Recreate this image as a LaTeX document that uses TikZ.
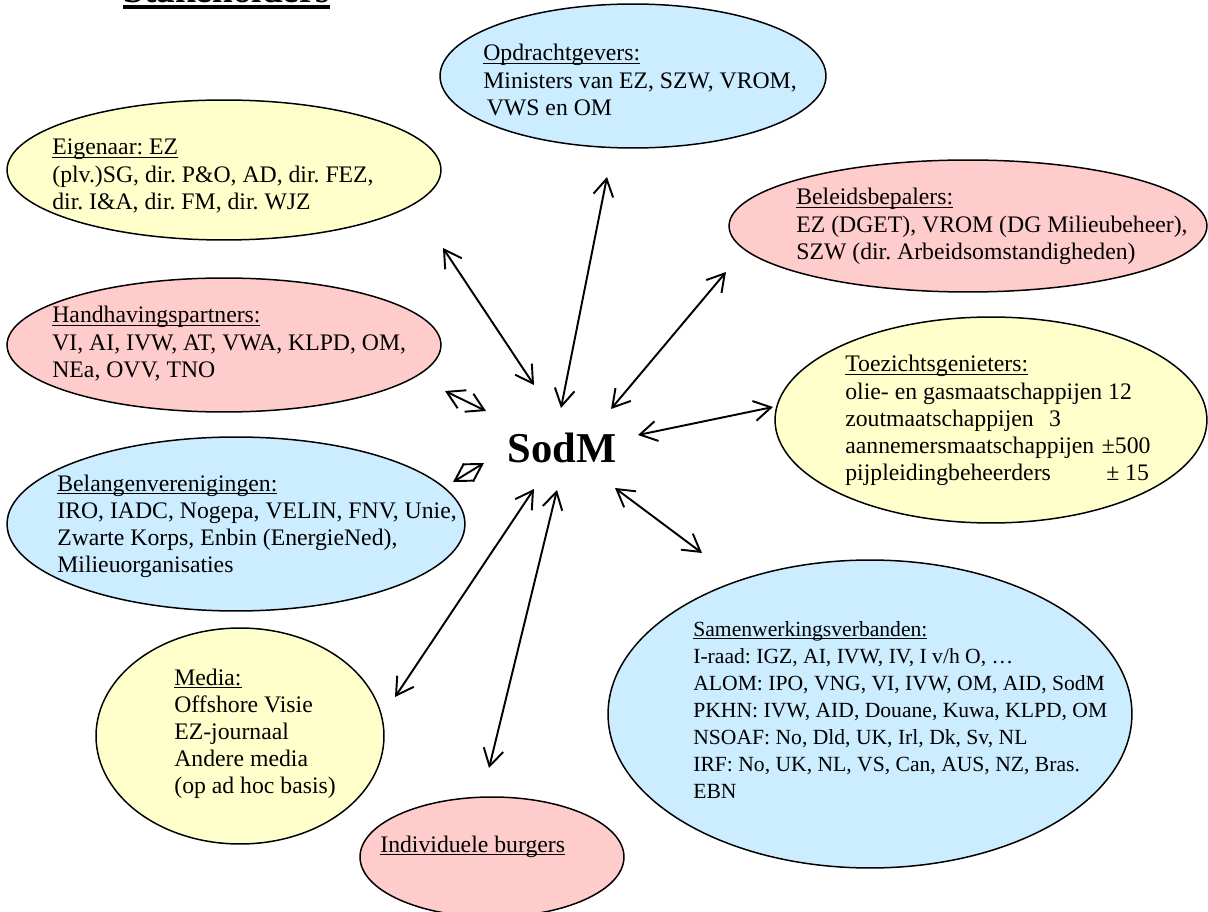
\documentclass[tikz,border=0pt]{standalone}
\usepackage{fontspec}
\setmainfont{Liberation Serif}
\usepackage{tikz}
\usetikzlibrary{arrows.meta,shapes.geometric}

\definecolor{skyfill}{RGB}{204,236,255}
\definecolor{lemonfill}{RGB}{255,255,204}
\definecolor{rosefill}{RGB}{255,204,204}

\newcommand{\ulinx}[3]{\setbox0=\hbox{#3}\rlap{\rule[#1]{\wd0}{#2}}\box0}
\newcommand{\ulin}[1]{\ulinx{-1.9pt}{0.7pt}{#1}}
\newcommand{\bigtxt}{\fontsize{13.5}{15.4}\selectfont}
\newcommand{\smalltxt}{\fontsize{12.3}{15.4}\selectfont}
\frenchspacing

\begin{document}
\begin{tikzpicture}[x=0.02cm,y=-0.02cm,
  blob/.style={ellipse, draw, line width=0.85pt, inner sep=0pt},
  lbl/.style={anchor=base west, inner sep=0pt, font=\bigtxt},
  link/.style={{Straight Barb[length=3.4mm,width=4mm]}-{Straight Barb[length=3.4mm,width=4mm]}, line width=1.1pt}]
  \useasboundingbox (0,0) rectangle (1208,912);

  \node[anchor=base west, inner sep=0pt, font=\bfseries\fontsize{21.2}{25}\selectfont] (title) at (123,3)
    {\ulinx{-3.6pt}{2.3pt}{Stakeholders}};

  \node[blob, fill=skyfill,   minimum width=7.72cm,  minimum height=2.88cm] (opd) at (633,76) {};
  \node[blob, fill=lemonfill, minimum width=8.68cm,  minimum height=2.80cm] (eig) at (224,170) {};
  \node[blob, fill=rosefill,  minimum width=9.56cm,  minimum height=2.64cm] (bel) at (968,226) {};
  \node[blob, fill=rosefill,  minimum width=8.68cm,  minimum height=2.68cm] (han) at (224,345) {};
  \node[blob, fill=lemonfill, minimum width=8.64cm,  minimum height=4.12cm] (toe) at (991,420) {};
  \node[blob, fill=skyfill,   minimum width=9.16cm,  minimum height=3.48cm] (blg) at (236,524) {};
  \node[blob, fill=skyfill,   minimum width=10.48cm, minimum height=6.16cm] (sam) at (870,714) {};
  \node[blob, fill=lemonfill, minimum width=5.76cm,  minimum height=4.32cm] (med) at (240,736) {};
  \node[blob, fill=rosefill,  minimum width=5.28cm,  minimum height=2.40cm] (ind) at (492,857) {};

  \node[lbl] (opdT) at (483,61) {\begin{tabular}[t]{@{}l@{}}
    \ulin{Opdrachtgevers:}\\ Ministers van EZ, SZW, VROM,\\ \hspace*{2pt}VWS en OM\end{tabular}};
  \node[lbl] (eigT) at (52,155) {\begin{tabular}[t]{@{}l@{}}
    \ulin{Eigenaar: EZ}\\ (plv.)SG, dir. P\&O, AD, dir. FEZ,\\ dir. I\&A, dir. FM, dir. WJZ\end{tabular}};
  \node[lbl] (belT) at (796,205) {\begin{tabular}[t]{@{}l@{}}
    \ulin{Beleidsbepalers:}\\ EZ (DGET), VROM (DG Milieubeheer),\\ SZW (dir. Arbeidsomstandigheden)\end{tabular}};
  \node[lbl] (hanT) at (52,323) {\begin{tabular}[t]{@{}l@{}}
    \ulin{Handhavingspartners:}\\ VI, AI, IVW, AT, VWA, KLPD, OM,\\ NEa, OVV, TNO\end{tabular}};
  \node[lbl] (toeT) at (845,372) {\begin{tabular}[t]{@{}l@{}}
    \ulin{Toezichtsgenieters:}\\ olie- en gasmaatschappijen 12\\
    \makebox[116pt][l]{zoutmaatschappijen}3\\
    \makebox[146pt][l]{aannemersmaatschappijen}±500\\
    \makebox[148.5pt][l]{pijpleidingbeheerders}± 15\end{tabular}};
  \node[lbl] (blgT) at (57,491) {\begin{tabular}[t]{@{}l@{}}
    \ulin{Belangenverenigingen:}\\ IRO, IADC, Nogepa, VELIN, FNV, Unie,\\
    Zwarte Korps, Enbin (EnergieNed),\\ Milieuorganisaties\end{tabular}};
  \node[lbl, font=\smalltxt] (samT) at (693,636) {\begin{tabular}[t]{@{}l@{}}
    \ulin{Samenwerkingsverbanden:}\\ I-raad: IGZ, AI, IVW, IV, I v/h O, …\\
    ALOM: IPO, VNG, VI, IVW, OM, AID, SodM\\ PKHN: IVW, AID, Douane, Kuwa, KLPD, OM\\
    NSOAF: No, Dld, UK, Irl, Dk, Sv, NL\\ IRF: No, UK, NL, VS, Can, AUS, NZ, Bras.\\ EBN\end{tabular}};
  \node[lbl] (medT) at (174,685) {\begin{tabular}[t]{@{}l@{}}
    \ulin{Media:}\\ Offshore Visie\\ EZ-journaal\\ Andere media\\ (op ad hoc basis)\end{tabular}};
  \node[lbl] (indT) at (380,852) {\ulin{Individuele burgers}};

  \node[font=\bfseries\fontsize{24.2}{29}\selectfont] (sodm) at (562,448) {SodM};

  \coordinate (eigA) at (534,385); \coordinate (eigB) at (443,248);
  \coordinate (opdA) at (561,408); \coordinate (opdB) at (607,177);
  \coordinate (belA) at (611,409); \coordinate (belB) at (726,272);
  \coordinate (toeA) at (638,435); \coordinate (toeB) at (773,407);
  \coordinate (hanA) at (486,411); \coordinate (hanB) at (445,391);
  \coordinate (blgA) at (484,463); \coordinate (blgB) at (453,482);
  \coordinate (medA) at (534,489); \coordinate (medB) at (395,697);
  \coordinate (indA) at (557,490); \coordinate (indB) at (489,768);
  \coordinate (samA) at (615,488); \coordinate (samB) at (702,553);

  \foreach \s in {eig,opd,bel,toe,han,blg,med,ind,sam}
    \draw[link] (\s A) -- (\s B);
\end{tikzpicture}
\end{document}
